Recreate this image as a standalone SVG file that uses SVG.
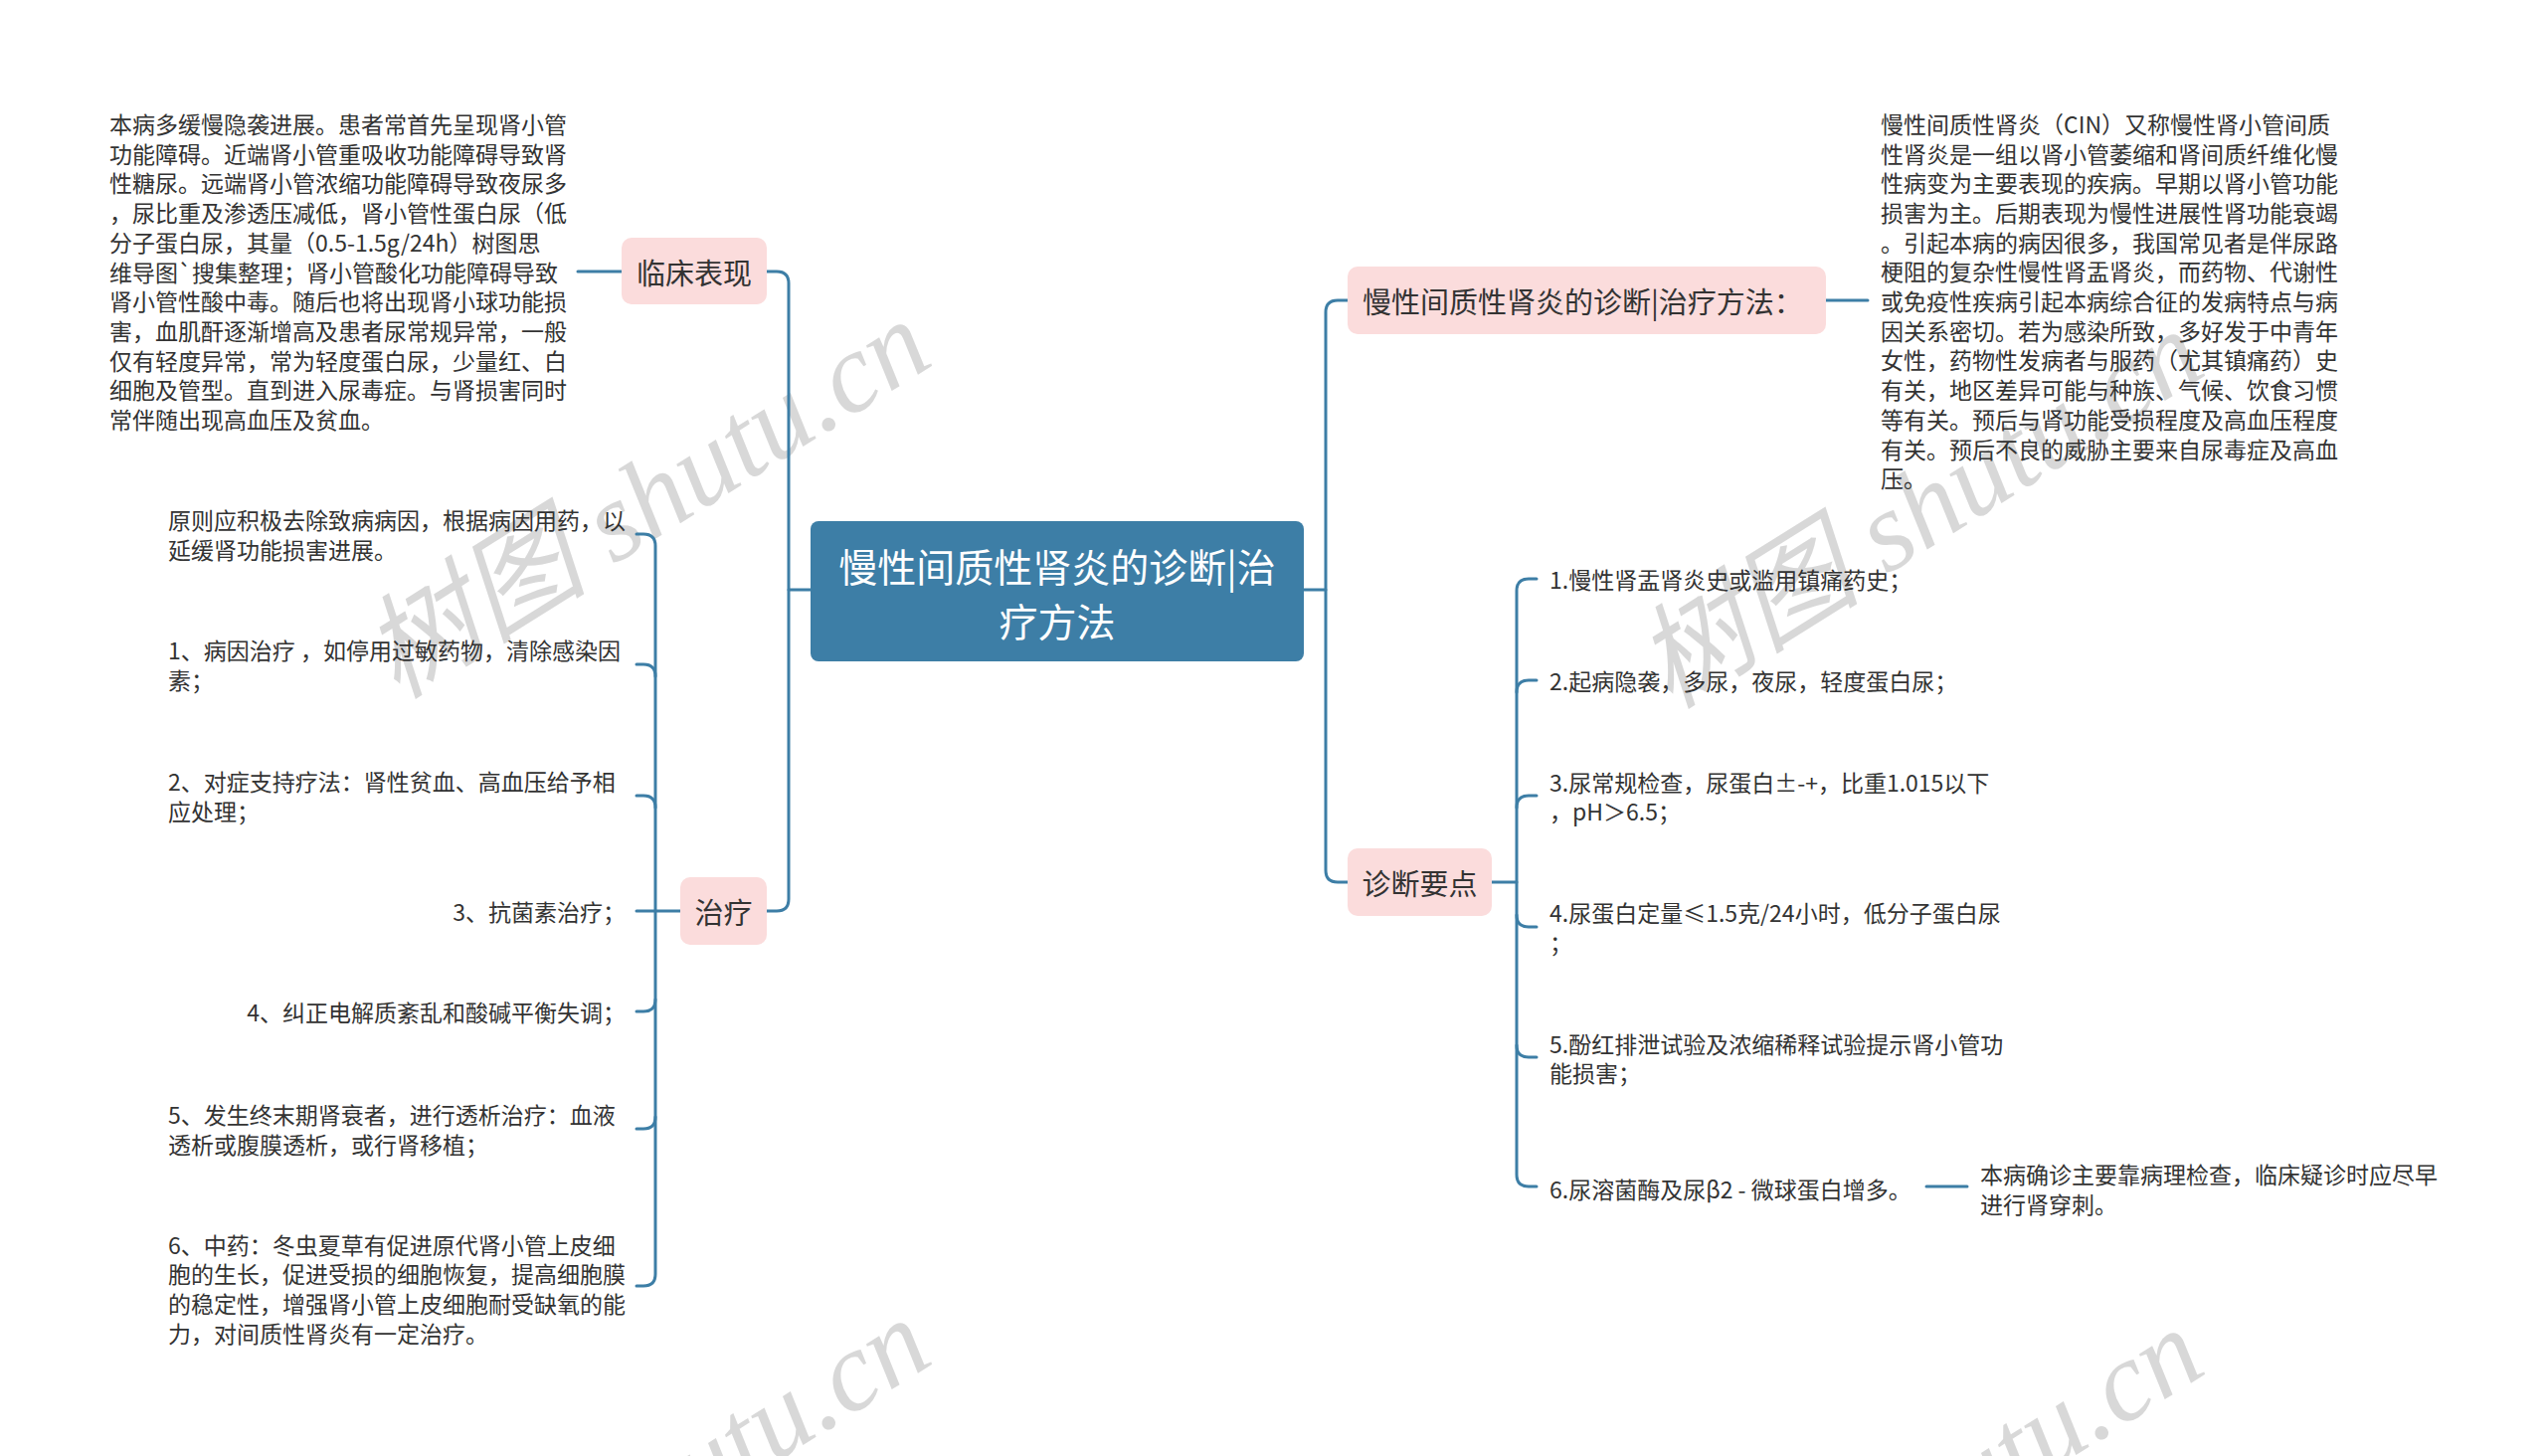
<svg xmlns="http://www.w3.org/2000/svg" width="2560" height="1464" viewBox="0 0 2560 1464">
<style>
.t{font-family:"Noto Sans CJK SC","Liberation Sans",sans-serif;font-size:23px;fill:#333;dominant-baseline:central}
.e{text-anchor:end}
.n{font-family:"Noto Sans CJK SC","Liberation Sans",sans-serif;font-size:29px;fill:#333;dominant-baseline:central;text-anchor:middle}
.root{font-family:"Noto Sans CJK SC","Liberation Sans",sans-serif;font-size:39px;fill:#fff;dominant-baseline:central;text-anchor:middle}
.pink{fill:#fbdcdc}
.c{fill:none;stroke:#3d7ea6;stroke-width:3;stroke-linecap:round}
.wm{font-family:"Liberation Serif","Noto Sans CJK SC",serif;font-style:italic;font-size:114px;fill:#d4d4d4;fill-opacity:0.9;text-anchor:middle;dominant-baseline:central}
</style>
<rect width="2560" height="1464" fill="#fff"/>
<g id="watermarks">
<text class="wm" transform="translate(650,502) rotate(-32)">树图 shutu.cn</text>
<text class="wm" transform="translate(1930,512) rotate(-32)">树图 shutu.cn</text>
<text class="wm" transform="translate(650,1506) rotate(-32)">树图 shutu.cn</text>
<text class="wm" transform="translate(1930,1516) rotate(-32)">树图 shutu.cn</text>
</g>
<g id="connectors">
<path class="c" d="M793 593H815"/>
<path class="c" d="M771 273H781Q793 273 793 285V904Q793 916 781 916H771"/>
<path class="c" d="M581 273H625"/>
<path class="c" d="M640 537H647Q659 537 659 549V1281Q659 1293 647 1293H640"/>
<path class="c" d="M640 668H647Q659 668 659 680"/>
<path class="c" d="M640 800H647Q659 800 659 812"/>
<path class="c" d="M640 916H684"/>
<path class="c" d="M640 1017H647Q659 1017 659 1005"/>
<path class="c" d="M640 1135H647Q659 1135 659 1123"/>
<path class="c" d="M1311 593H1333"/>
<path class="c" d="M1355 302H1345Q1333 302 1333 314V875Q1333 887 1345 887H1355"/>
<path class="c" d="M1836 302H1878"/>
<path class="c" d="M1500 887H1525"/>
<path class="c" d="M1545 582H1537Q1525 582 1525 594V1181Q1525 1193 1537 1193H1545"/>
<path class="c" d="M1545 684H1537Q1525 684 1525 696"/>
<path class="c" d="M1545 800H1537Q1525 800 1525 812"/>
<path class="c" d="M1545 932H1537Q1525 932 1525 920"/>
<path class="c" d="M1545 1063H1537Q1525 1063 1525 1051"/>
<path class="c" d="M1937 1193H1978"/>
</g>
<g id="root">
<rect x="815" y="524" width="496" height="141" rx="8" fill="#3d7ea6"/>
<text class="root" x="1063" y="568">慢性间质性肾炎的诊断|治</text>
<text class="root" x="1063" y="623">疗方法</text>
</g>
<g id="clinical">
<rect class="pink" x="625" y="239" width="146" height="67" rx="10"/>
<text class="n" x="698" y="273">临床表现</text>
</g>
<g id="clinical-text">
<text class="t" x="110" y="124">本病多缓慢隐袭进展。患者常首先呈现肾小管</text>
<text class="t" x="110" y="153.7">功能障碍。近端肾小管重吸收功能障碍导致肾</text>
<text class="t" x="110" y="183.4">性糖尿。远端肾小管浓缩功能障碍导致夜尿多</text>
<text class="t" x="110" y="213.1">，尿比重及渗透压减低，肾小管性蛋白尿（低</text>
<text class="t" x="110" y="242.8">分子蛋白尿，其量（0.5-1.5g/24h）树图思</text>
<text class="t" x="110" y="272.5">维导图`搜集整理；肾小管酸化功能障碍导致</text>
<text class="t" x="110" y="302.2">肾小管性酸中毒。随后也将出现肾小球功能损</text>
<text class="t" x="110" y="331.9">害，血肌酐逐渐增高及患者尿常规异常，一般</text>
<text class="t" x="110" y="361.6">仅有轻度异常，常为轻度蛋白尿，少量红、白</text>
<text class="t" x="110" y="391.3">细胞及管型。直到进入尿毒症。与肾损害同时</text>
<text class="t" x="110" y="421">常伴随出现高血压及贫血。</text>
</g>
<g id="treatment">
<rect class="pink" x="684" y="882" width="87" height="68" rx="10"/>
<text class="n" x="727.5" y="916">治疗</text>
</g>
<g id="t1">
<text class="t" x="169" y="522">原则应积极去除致病病因，根据病因用药，以</text>
<text class="t" x="169" y="552">延缓肾功能损害进展。</text>
</g>
<g id="t2">
<text class="t" x="169" y="653">1、病因治疗 ，如停用过敏药物，清除感染因</text>
<text class="t" x="169" y="683">素；</text>
</g>
<g id="t3">
<text class="t" x="169" y="785">2、对症支持疗法：肾性贫血、高血压给予相</text>
<text class="t" x="169" y="815">应处理；</text>
</g>
<g id="t4">
<text class="t e" x="629" y="916">3、抗菌素治疗；</text>
</g>
<g id="t5">
<text class="t e" x="629" y="1017">4、纠正电解质紊乱和酸碱平衡失调；</text>
</g>
<g id="t6">
<text class="t" x="169" y="1120">5、发生终末期肾衰者，进行透析治疗：血液</text>
<text class="t" x="169" y="1150">透析或腹膜透析，或行肾移植；</text>
</g>
<g id="t7">
<text class="t" x="169" y="1250.5">6、中药：冬虫夏草有促进原代肾小管上皮细</text>
<text class="t" x="169" y="1280.2">胞的生长，促进受损的细胞恢复，提高细胞膜</text>
<text class="t" x="169" y="1309.9">的稳定性，增强肾小管上皮细胞耐受缺氧的能</text>
<text class="t" x="169" y="1339.6">力，对间质性肾炎有一定治疗。</text>
</g>
<g id="method">
<rect class="pink" x="1355" y="268" width="481" height="68" rx="10"/>
<text class="n" x="1370" y="302" style="text-anchor:start">慢性间质性肾炎的诊断|治疗方法：</text>
</g>
<g id="method-text">
<text class="t" x="1891" y="123.8">慢性间质性肾炎（CIN）又称慢性肾小管间质</text>
<text class="t" x="1891" y="153.5">性肾炎是一组以肾小管萎缩和肾间质纤维化慢</text>
<text class="t" x="1891" y="183.2">性病变为主要表现的疾病。早期以肾小管功能</text>
<text class="t" x="1891" y="212.9">损害为主。后期表现为慢性进展性肾功能衰竭</text>
<text class="t" x="1891" y="242.6">。引起本病的病因很多，我国常见者是伴尿路</text>
<text class="t" x="1891" y="272.3">梗阻的复杂性慢性肾盂肾炎，而药物、代谢性</text>
<text class="t" x="1891" y="302">或免疫性疾病引起本病综合征的发病特点与病</text>
<text class="t" x="1891" y="331.7">因关系密切。若为感染所致，多好发于中青年</text>
<text class="t" x="1891" y="361.4">女性，药物性发病者与服药（尤其镇痛药）史</text>
<text class="t" x="1891" y="391.1">有关，地区差异可能与种族、气候、饮食习惯</text>
<text class="t" x="1891" y="420.8">等有关。预后与肾功能受损程度及高血压程度</text>
<text class="t" x="1891" y="450.5">有关。预后不良的威胁主要来自尿毒症及高血</text>
<text class="t" x="1891" y="480.2">压。</text>
</g>
<g id="diagnosis">
<rect class="pink" x="1355" y="853" width="145" height="68" rx="10"/>
<text class="n" x="1427.5" y="887">诊断要点</text>
</g>
<g id="d1">
<text class="t" x="1558" y="582">1.慢性肾盂肾炎史或滥用镇痛药史；</text>
</g>
<g id="d2">
<text class="t" x="1558" y="684">2.起病隐袭，多尿，夜尿，轻度蛋白尿；</text>
</g>
<g id="d3">
<text class="t" x="1558" y="786">3.尿常规检查，尿蛋白±-+，比重1.015以下</text>
<text class="t" x="1558" y="815">，pH＞6.5；</text>
</g>
<g id="d4">
<text class="t" x="1558" y="917">4.尿蛋白定量≤1.5克/24小时，低分子蛋白尿</text>
<text class="t" x="1558" y="947">；</text>
</g>
<g id="d5">
<text class="t" x="1558" y="1049">5.酚红排泄试验及浓缩稀释试验提示肾小管功</text>
<text class="t" x="1558" y="1078">能损害；</text>
</g>
<g id="d6">
<text class="t" x="1558" y="1195">6.尿溶菌酶及尿β2 - 微球蛋白增多。</text>
</g>
<g id="d6a">
<text class="t" x="1991" y="1180">本病确诊主要靠病理检查，临床疑诊时应尽早</text>
<text class="t" x="1991" y="1210">进行肾穿刺。</text>
</g>
</svg>
